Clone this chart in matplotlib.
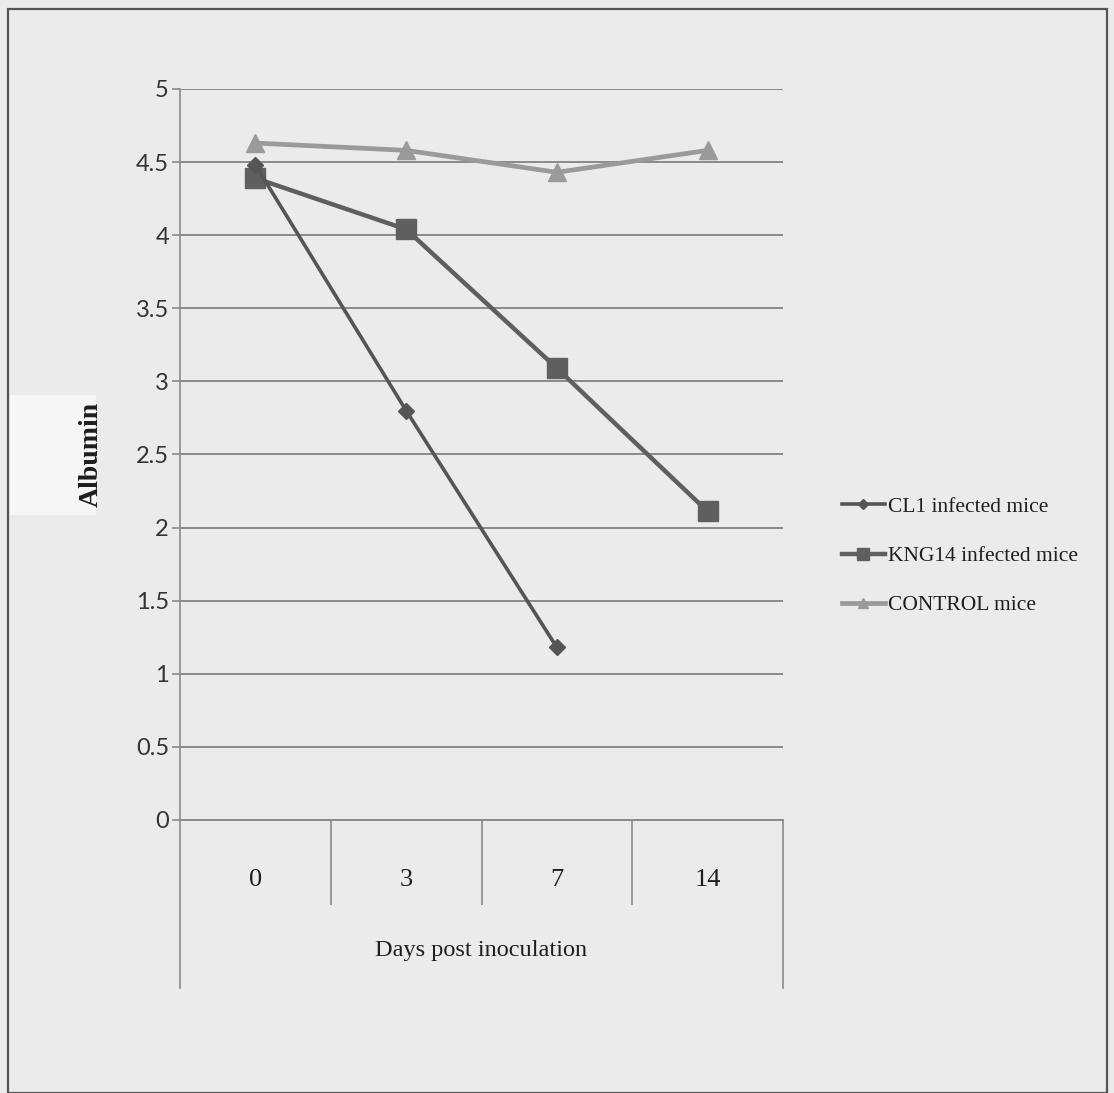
import matplotlib
matplotlib.use("Agg")
import matplotlib.pyplot as plt
from matplotlib.patches import Rectangle
from matplotlib.lines import Line2D
import matplotlib.transforms as mtransforms

# Serum albumin over time after inoculation
days = ["0", "3", "7", "14"]
cl1_values = [4.48, 2.80, 1.18]
kng14_values = [4.39, 4.04, 3.09, 2.11]
control_values = [4.63, 4.58, 4.43, 4.58]
y_ticks = [0, 0.5, 1, 1.5, 2, 2.5, 3, 3.5, 4, 4.5, 5]
y_tick_labels = ["0", "0.5", "1", "1.5", "2", "2.5", "3", "3.5", "4", "4.5", "5"]

bg = "#ebebeb"
grid_c = "#8a8a8a"
text_c = "#1e1e1e"
serif = ["Liberation Serif", "DejaVu Serif"]

fig = plt.figure(figsize=(11.14, 10.93), dpi=100, facecolor=bg)

# lighter strip behind the axis title (drawn underneath the axes)
fig.patches.append(Rectangle((0.009, 0.529), 0.077, 0.11, transform=fig.transFigure,
                             facecolor="#f6f6f6", edgecolor="none", zorder=-5))

ax = fig.add_axes([0.1616, 0.2498, 0.5413, 0.6688])
ax.set_facecolor(bg)

x = list(range(len(days)))
ax.plot(x[:len(cl1_values)], cl1_values, color="#555555", lw=2.6,
        marker="D", markersize=8, label="CL1 infected mice", zorder=4)
ax.plot(x, kng14_values, color="#5f5f5f", lw=3.2,
        marker="s", markersize=14, label="KNG14 infected mice", zorder=3)
ax.plot(x, control_values, color="#9a9a9a", lw=3.4,
        marker="^", markersize=13, label="CONTROL mice", zorder=2)

ax.set_xlim(-0.5, len(days) - 0.5)
ax.set_ylim(0, 5)
ax.set_yticks(y_ticks)
ax.set_yticklabels(y_tick_labels, fontfamily="Lato", fontsize=17, color="#333333")
ax.yaxis.grid(True, color=grid_c, lw=1.4)
ax.set_axisbelow(True)
ax.tick_params(axis="y", length=6, width=1.2, color=grid_c, pad=2)

ax.set_xticks(x)
ax.set_xticklabels(days, fontfamily=serif, fontsize=19, color=text_c)
ax.set_xticks([0.5, 1.5, 2.5], minor=True)
ax.tick_params(axis="x", which="major", length=0, pad=35)
ax.tick_params(axis="x", which="minor", length=61, width=1.2, color=grid_c)

for side in ["top", "right"]:
    ax.spines[side].set_visible(False)
ax.spines["left"].set_color(grid_c)
ax.spines["left"].set_linewidth(1.2)
ax.spines["bottom"].set_color(grid_c)
ax.spines["bottom"].set_linewidth(1.4)

# Outer frame of the category table below the axis
trans = mtransforms.blended_transform_factory(ax.transData, ax.transAxes)
for xb in (-0.5, len(days) - 0.5):
    ax.add_line(Line2D([xb, xb], [0, -0.23], transform=trans, color=grid_c,
                       lw=1.2, clip_on=False))

ax.set_xlabel("Days post inoculation", fontfamily=serif, fontsize=17.5,
              color=text_c, labelpad=22)
ax.set_ylabel("Albumin", fontfamily=serif, fontsize=20, fontweight="bold",
              color=text_c)
ax.yaxis.set_label_coords(-0.126, 0.50)

leg = ax.legend(loc="center left", bbox_to_anchor=(1.065, 0.361), frameon=False,
                prop={"family": serif, "size": 15.5}, handlelength=2.0,
                handletextpad=0.15, labelspacing=1.35, labelcolor=text_c,
                markerscale=0.6)

# Frame around the whole chart
fig.patches.append(Rectangle((0.007, 0.0), 0.987, 0.992, transform=fig.transFigure,
                             fill=False, edgecolor="#555555", lw=1.6))

fig.savefig("out.png", dpi=100, facecolor=bg)
